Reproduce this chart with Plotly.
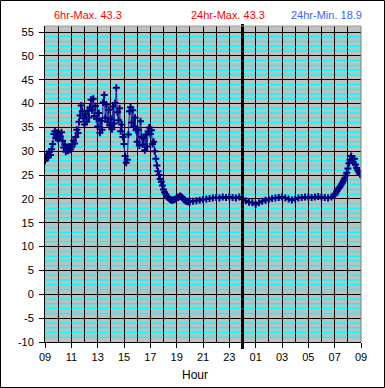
import pandas as pd
import plotly.graph_objects as go

# ---------------- data ----------------
start_day = "2024-01-01 09:00"
# 09:00 - 19:55, every 5 minutes (one row per hour)
temp_day = [
    28.0, 28.6, 29.4, 28.8, 29.9, 29.2, 30.4, 31.5, 33.6, 34.2, 32.8, 33.9,
    32.5, 33.7, 33.1, 34.0, 32.2, 30.8, 31.4, 29.9, 30.6, 30.1, 31.0, 30.3,
    30.8, 31.5, 32.2, 31.6, 33.0, 34.5, 33.8, 36.2, 37.5, 39.6, 38.4, 36.9,
    35.6, 37.8, 36.2, 38.5, 37.1, 39.2, 40.8, 38.6, 41.0, 37.4, 39.5, 36.8,
    35.2, 38.0, 33.9, 36.4, 34.5, 40.2, 41.8, 37.0, 39.8, 36.2, 38.7, 35.4,
    36.8, 34.6, 39.4, 35.8, 40.1, 43.3, 38.2, 36.5, 39.0, 34.2, 35.6, 33.0,
    31.5, 29.0, 27.6, 28.2, 33.5, 38.4, 39.2, 36.0, 38.6, 35.2, 37.0, 34.4,
    32.0, 34.5, 31.2, 36.3, 33.0, 31.4, 32.8, 30.2, 33.5, 31.0, 34.2, 35.0,
    33.6, 34.4, 31.5, 32.0, 30.0, 28.4, 27.0, 25.8, 25.0, 24.2, 23.6, 22.8,
    22.0, 21.4, 21.0, 20.6, 20.3, 20.1, 19.9, 19.8, 19.7, 19.8, 19.9, 20.0,
    20.2, 20.3, 20.4, 20.6, 20.5, 20.3, 20.0, 19.8, 19.6, 19.5, 19.4, 19.5,
]
start_night = "2024-01-01 20:00"
# 20:00 - 06:45, every 15 minutes
temp_night = [
    19.4, 19.5, 19.6, 19.7,
    19.9, 20.0, 20.1, 20.2,
    20.3, 20.2, 20.4, 20.3,
    20.4, 20.3, 20.2, 20.4,
    20.0, 19.6, 19.3, 19.2,
    18.9, 19.2, 19.5, 19.7,
    19.9, 20.1, 20.2, 20.3,
    20.4, 20.2, 20.0, 19.8,
    20.0, 20.2, 20.3, 20.4,
    20.4, 20.3, 20.4, 20.5,
    20.4, 20.3, 20.2, 20.4,
]
start_morning = "2024-01-02 07:00"
# 07:00 - 09:00, every 5 minutes
temp_morning = [
    20.8, 21.2, 21.6, 22.0, 22.3, 22.6, 23.0, 23.4, 23.8, 24.3, 24.9, 25.5,
    26.4, 27.5, 28.2, 29.0, 28.3, 27.6, 28.4, 27.2, 26.5, 26.0, 25.6, 25.2,
    25.0,
]
hour_labels = ["09", "11", "13", "15", "17", "19", "21", "23", "01", "03", "05", "07", "09"]
y_ticks = [55, 50, 45, 40, 35, 30, 25, 20, 15, 10, 5, 0, -5, -10]
max_6hr = 43.3
max_24hr = 43.3
min_24hr = 18.9
midnight = "2024-01-02 00:00"
range_start, range_end = "2024-01-01 09:00", "2024-01-02 09:00"
y_min, y_max = -10, 56.26

times = (list(pd.date_range(start_day, periods=len(temp_day), freq="5min"))
         + list(pd.date_range(start_night, periods=len(temp_night), freq="15min"))
         + list(pd.date_range(start_morning, periods=len(temp_morning), freq="5min")))
temps = temp_day + temp_night + temp_morning
tick_times = list(pd.date_range(range_start, periods=len(hour_labels), freq="2h"))
minor_levels = [v for v in range(-9, 56) if v % 5 != 0]

FONT = "Liberation Sans, Arial, sans-serif"

fig = go.Figure()
fig.add_trace(go.Scatter(
    x=times, y=temps, mode="lines+markers",
    line=dict(color="#1a1aa0", width=1),
    marker=dict(symbol="cross-thin", size=5, line=dict(color="#000080", width=2)),
    showlegend=False, hoverinfo="skip",
))

W, H = 385, 388
L, R, T, B = 45, 24, 26, 46
pw, ph = W - L - R, H - T - B

def px(xp):
    return (xp - L) / pw

def py(yp):
    return (H - B - yp) / ph

# cyan minor grid drawn beneath the black grid
shapes = [
    dict(type="line", xref="paper", yref="y", x0=0, x1=1, y0=v, y1=v,
         line=dict(color="#00ffff", width=1.5), layer="below")
    for v in minor_levels
]
shapes += [
    dict(type="line", xref="x", yref="paper", x0=midnight, x1=midnight,
         y0=py(349), y1=py(24), line=dict(color="black", width=3), layer="above"),
    dict(type="line", xref="paper", yref="paper", x0=1, x1=1, y0=0, y1=1,
         line=dict(color="#808080", width=1), layer="above"),
    dict(type="line", xref="paper", yref="paper", x0=0, x1=1, y0=1, y1=1,
         line=dict(color="#a0a0a0", width=1), layer="above"),
    dict(type="rect", xref="paper", yref="paper", x0=px(0.5), x1=px(W - 0.5),
         y0=py(H - 0.5), y1=py(0.5), line=dict(color="black", width=1), layer="above"),
]

fig.update_layout(
    width=W, height=H,
    margin=dict(l=L, r=R, t=T, b=B, pad=0),
    paper_bgcolor="white", plot_bgcolor="#c0c0c0",
    font=dict(family=FONT, size=11, color="black"),
    xaxis=dict(
        type="date", range=[range_start, range_end],
        tickmode="array", tickvals=tick_times, ticktext=hour_labels,
        ticks="outside", ticklen=5, tickcolor="black", tickwidth=1,
        showgrid=True, gridcolor="black", gridwidth=1,
        minor=dict(dtick=3600000, tick0=range_start, showgrid=True, gridcolor="black", gridwidth=1, ticks=""),
        showline=True, linecolor="black", linewidth=1,
        tickfont=dict(family=FONT, size=11, color="black"),
        zeroline=False, fixedrange=True,
    ),
    yaxis=dict(
        range=[y_min, y_max], tickmode="array", tickvals=y_ticks, ticktext=[str(v) for v in y_ticks],
        ticks="outside", ticklen=5, tickcolor="black", tickwidth=1,
        showgrid=True, gridcolor="black", gridwidth=1,
        showline=True, linecolor="black", linewidth=1,
        tickfont=dict(family=FONT, size=11, color="black"),
        ticklabelstandoff=3,
        zeroline=False, fixedrange=True,
    ),
    shapes=shapes,
    annotations=[
        dict(text=f"6hr-Max. {max_6hr}", x=px(88), y=py(15), xref="paper", yref="paper",
             showarrow=False, xanchor="center", yanchor="middle", font=dict(color="#ff0000", size=11)),
        dict(text=f"24hr-Max. {max_24hr}", x=px(228), y=py(15), xref="paper", yref="paper",
             showarrow=False, xanchor="center", yanchor="middle", font=dict(color="#ff0000", size=11)),
        dict(text=f"24hr-Min. {min_24hr}", x=px(326), y=py(15), xref="paper", yref="paper",
             showarrow=False, xanchor="center", yanchor="middle", font=dict(color="#3366ff", size=11)),
        dict(text="Hour", x=px(195), y=py(375), xref="paper", yref="paper",
             showarrow=False, xanchor="center", yanchor="middle", font=dict(color="black", size=12)),
    ],
)

fig.write_html(
    "out.html",
    config={"displayModeBar": False},
    post_script="document.body.style.margin='0';document.body.style.padding='0';",
)
